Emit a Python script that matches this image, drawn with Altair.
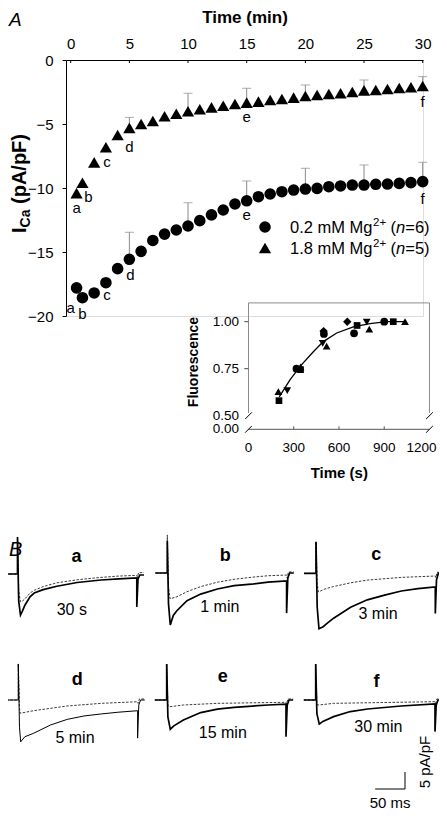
import altair as alt
import pandas as pd

FONT = "Liberation Sans"

# ---------------- Panel A : main time course ----------------
TIME_MIN = [0.5, 1, 2, 3, 4, 5, 6, 7, 8, 9, 10, 11, 12, 13, 14, 15, 16, 17, 18, 19, 20,
            21, 22, 23, 24, 25, 26, 27, 28, 29, 30]
I_LOW_MG = [-17.8, -18.57, -18.2, -17.4, -16.3, -15.57, -14.95, -14.1, -13.6, -13.28, -12.97,
            -12.55, -12.1, -11.72, -11.25, -11.0, -10.68, -10.47, -10.29, -10.16, -10.08,
            -10.03, -9.9, -9.84, -9.77, -9.77, -9.71, -9.69, -9.64, -9.58, -9.5]
I_HIGH_MG = [-10.4, -9.59, -8.0, -6.82, -5.86, -5.3, -5.0, -4.77, -4.4, -4.2, -4.0,
             -3.85, -3.7, -3.57, -3.44, -3.33, -3.25, -3.12, -3.05, -2.94, -2.81,
             -2.73, -2.66, -2.6, -2.5, -2.37, -2.34, -2.27, -2.19, -2.13, -2.03]
ERR_TIME = [5, 10, 15, 20, 25, 30]
ERR_TOP_LOW = [-13.46, -11.15, -9.45, -8.46, -8.2, -7.99]
ERR_TOP_HIGH = [-4.48, -2.6, -2.21, -1.95, -1.56, -1.3]
X_TICKS = [0, 5, 10, 15, 20, 25, 30]
Y_TICKS = [0, -5, -10, -15, -20]
POINT_LETTERS = ["a", "b", "c", "d", "e", "f"]
LETTER_TIMES = [0.5, 1, 3, 5, 15, 30]

# ---------------- Inset : fluorescence ----------------
SQ_T = [202, 345, 720, 960]
SQ_F = [0.58, 0.745, 0.98, 1.0]
TU_T = [198, 345, 518, 801, 1038]
TU_F = [0.628, 0.76, 0.87, 0.961, 1.0]
TD_T = [257, 492, 784]
TD_F = [0.633, 0.885, 0.998]
CI_T = [318, 500, 700, 900]
CI_F = [0.75, 0.935, 0.938, 1.0]
DI_T = [498, 655]
DI_F = [0.95, 1.0]
FIT_T = [204, 275, 345, 430, 496, 585, 695, 806, 916, 1038]
FIT_F = [0.60, 0.69, 0.765, 0.84, 0.894, 0.94, 0.973, 0.99, 1.0, 1.0]
INSET_Y_TICKS = [1.0, 0.75]
INSET_Y_LABELS = [1.0, 0.75, 0.5]
INSET_X_TICKS = [300, 600, 900]
INSET_X_LABELS = [0, 300, 600, 900, 1200]

# ---------------- Panel B : current traces (t in ms, I in pA/pF) ----------------
A_SOL_T = [-20, 0, 0, 2, 5, 8, 12.6, 21, 28, 43, 66, 100, 140, 170, 200, 200, 202, 205, 212]
A_SOL_V = [0, 0, 10.9, -8, -12.1, -11, -9.1, -6.7, -5.6, -4.6, -3.6, -2.5, -1.76, -1.45, -1.18, -9.7, -1.5, -0.3, -0.3]
A_DSH_T = [-20, 0, 0, 2, 5, 8, 12.6, 21, 28, 43, 66, 100, 140, 170, 200, 201, 203, 212]
A_DSH_V = [0, 0, 10.9, -5, -8.2, -8, -7.3, -5.6, -4.8, -3.7, -2.6, -1.7, -1.0, -0.6, -0.4, -0.9, 0.4, 0.4]

B_SOL_T = [-20, 0, 0, 2, 5, 10, 16, 33, 56, 84, 112, 141, 169, 200, 200, 202, 205, 212]
B_SOL_V = [0, 0, 9.5, -9, -15.3, -12.5, -11.1, -8.15, -6.2, -4.7, -3.7, -3.3, -2.7, -2.35, -11.8, -1.5, 0, 0]
B_DSH_T = [-20, 0, 0, 2, 4.6, 16, 33, 56, 84, 112, 141, 169, 200, 201, 203, 212]
B_DSH_V = [0, 0, 11.2, -4, -7.6, -7.0, -5.5, -4.0, -2.7, -1.85, -1.26, -0.8, -0.6, -1.5, 0.3, 0.3]

C_SOL_T = [-20, 0, 0, 2, 5, 12, 18, 29.5, 58, 86, 115, 143, 171, 200, 200, 202, 205, 212]
C_SOL_V = [0, 0, 9.3, -10, -16.3, -15.7, -14.8, -13.2, -10.0, -7.8, -6.4, -5.2, -4.5, -4.0, -11.8, -2, 0, 0]
C_DSH_T = [-20, 0, 0, 2, 4, 15, 29.5, 58, 86, 143, 200, 201, 203, 212]
C_DSH_V = [0, 0, 9.3, -3, -5.5, -4.6, -3.9, -2.8, -2.0, -1.2, -0.8, -1.3, 0.3, 0.3]

D_SOL_T = [-20, 0, 0, 2, 4, 11, 25.5, 54, 82, 110, 139, 167, 200, 200, 202, 205, 212]
D_SOL_V = [0, 0, 10.6, -8, -12.3, -10.8, -9.8, -7.35, -5.7, -4.7, -4.1, -3.6, -3.15, -11.2, -1.5, 0, 0]
D_DSH_T = [-20, 0, 0, 2, 3, 25.5, 82, 139, 200, 201, 203, 212]
D_DSH_V = [0, 0, 10.6, -2.5, -3.9, -3.15, -1.76, -0.98, -0.5, -1, 0.3, 0.3]

E_SOL_T = [-20, 0, 0, 2, 6, 12, 28, 57, 85, 113, 170, 200, 200, 202, 205, 212]
E_SOL_V = [0, 0, 10.6, -5, -8.6, -7.6, -5.9, -3.7, -2.7, -2.15, -1.47, -1.2, -10.8, -1.5, 0, 0]
E_DSH_T = [-20, 0, 0, 2, 4, 28, 85, 200, 201, 203, 212]
E_DSH_V = [0, 0, 10.6, -1.5, -2.0, -1.47, -0.98, -0.68, -1.2, 0.3, 0.3]

F_SOL_T = [-20, 0, 0, 2, 6, 12, 30, 58, 87, 143, 200, 200, 202, 205, 212]
F_SOL_V = [0, 0, 10.6, -4, -7.1, -6.3, -4.9, -3.4, -2.65, -1.76, -1.18, -9.3, -1.5, 0, 0]
F_DSH_T = [-20, 0, 0, 2, 4, 30, 200, 201, 203, 212]
F_DSH_V = [0, 0, 10.6, -1, -1.5, -0.98, -0.5, -1, 0.3, 0.3]

PANEL_LETTERS = ["a", "b", "c", "d", "e", "f"]
PANEL_TIMES = ["30 s", "1 min", "3 min", "5 min", "15 min", "30 min"]
SCALE_MS = 50
SCALE_PA = 5

# ================= layout (pixels in page coordinates) =================
X0, Y0, W, H = 66, 60, 357, 256
SVG_W, SVG_H = 431, 810


def vx(px):
    return px - X0


def vy(py):
    return py - Y0


def xdom(v_ref, px_ref, k):
    return [v_ref + (X0 - px_ref) / k, v_ref + (X0 + W - px_ref) / k]


def ydom(v_ref, py_ref, k):
    return [v_ref - (Y0 + H - py_ref) / k, v_ref - (Y0 - py_ref) / k]


def qx(field, dom, axis=None):
    return alt.X(f"{field}:Q", scale=alt.Scale(domain=dom, nice=False, zero=False), axis=axis)


def qy(field, dom, axis=None):
    return alt.Y(f"{field}:Q", scale=alt.Scale(domain=dom, nice=False, zero=False), axis=axis)


def one():
    return alt.Chart(pd.DataFrame({"k": [0]}))


def txt(text, px, py, size=15, weight="normal", style="normal", align="left", baseline="alphabetic", angle=0):
    return one().mark_text(text=text, font=FONT, fontSize=size, fontWeight=weight, fontStyle=style,
                           align=align, baseline=baseline, angle=angle, color="black").encode(
        x=alt.value(vx(px)), y=alt.value(vy(py)))


# ---------------- main group ----------------
XD = xdom(0, 70.7, 11.733)
YD = ydom(0, 60, 12.8)
AXX = alt.Axis(orient="top", values=X_TICKS, title="Time (min)", ticks=False, tickSize=0,
               labelPadding=9, labelFont=FONT, labelFontSize=15, labelColor="black",
               domainColor="black", domainWidth=1, grid=False, labelFlush=False,
               titleFont=FONT, titleFontSize=17, titleFontWeight="bold", titleColor="black",
               titleX=W / 2, titleY=-38, titleAlign="center", titleBaseline="alphabetic", titleAngle=0)
AXY = alt.Axis(values=Y_TICKS, title=None, tickSize=4, tickColor="black", labelPadding=9,
               labelFont=FONT, labelFontSize=15, labelColor="black", domainColor="black",
               grid=False, labelFlush=False)

df_low = pd.DataFrame({"t": TIME_MIN, "v": I_LOW_MG})
df_high = pd.DataFrame({"t": TIME_MIN, "v": I_HIGH_MG})
df_err_low = pd.DataFrame({"t": ERR_TIME, "v": [I_LOW_MG[TIME_MIN.index(t)] for t in ERR_TIME], "top": ERR_TOP_LOW})
df_err_high = pd.DataFrame({"t": ERR_TIME, "v": [I_HIGH_MG[TIME_MIN.index(t)] for t in ERR_TIME], "top": ERR_TOP_HIGH})
df_ticks = pd.DataFrame({"t": X_TICKS})

ERR_COLOR = "#8a8a8a"
main_layers = [
    alt.Chart(df_ticks).mark_rule(color="black", strokeWidth=1).encode(
        x=qx("t", XD, AXX), y=alt.value(0), y2=alt.value(3)),
]
for dfe in (df_err_low, df_err_high):
    main_layers.append(alt.Chart(dfe).mark_rule(color=ERR_COLOR, strokeWidth=1).encode(
        x=qx("t", XD, AXX), y=qy("v", YD, AXY), y2="top:Q"))
    main_layers.append(alt.Chart(dfe).mark_tick(orient="horizontal", size=9, thickness=1, color=ERR_COLOR).encode(
        x=qx("t", XD, AXX), y=qy("top", YD, AXY)))
main_layers.append(alt.Chart(df_low).mark_point(shape="circle", filled=True, size=135, color="black", opacity=1).encode(
    x=qx("t", XD, AXX), y=qy("v", YD, AXY)))
main_layers.append(alt.Chart(df_high).mark_point(shape="triangle-up", filled=True, size=150, color="black", opacity=1).encode(
    x=qx("t", XD, AXX), y=qy("v", YD, AXY)))

# letter labels next to points (offsets are styling)
LABEL_OFFSETS_HIGH = [(0, 15), (6, 14), (1, 15), (0, 19), (0, 14), (0, 16)]
LABEL_OFFSETS_LOW = [(-6, 20), (0, 16), (1, 12), (1, 16), (0, 14), (0, 17)]
for series, offsets in ((I_HIGH_MG, LABEL_OFFSETS_HIGH), (I_LOW_MG, LABEL_OFFSETS_LOW)):
    for lab, tt, (dx, dy) in zip(POINT_LETTERS, LETTER_TIMES, offsets):
        d = pd.DataFrame({"t": [tt], "v": [series[TIME_MIN.index(tt)]], "lab": [lab]})
        main_layers.append(alt.Chart(d).mark_text(font=FONT, fontSize=15, dx=dx, dy=dy, baseline="middle",
                                                  align="center", color="black").encode(
            x=qx("t", XD, AXX), y=qy("v", YD, AXY), text="lab:N"))

# y axis title: I_Ca (pA/pF), rotated
main_layers += [
    txt("I", 26, 233, size=20, weight="bold", angle=270),
    txt("Ca", 30, 227.4, size=14, weight="bold", angle=270),
    txt("(pA/pF)", 26, 204, size=20, weight="bold", angle=270),
    txt("A", 9, 26, size=19, style="italic"),
    txt("B", 9, 556, size=20, style="italic"),
]

# legend
main_layers += [
    one().mark_point(shape="circle", filled=True, size=135, color="black", opacity=1).encode(
        x=alt.value(vx(265)), y=alt.value(vy(227))),
    one().mark_point(shape="triangle-up", filled=True, size=150, color="black", opacity=1).encode(
        x=alt.value(vx(265)), y=alt.value(vy(248))),
]
for i, (conc, n) in enumerate((("0.2", "6"), ("1.8", "5"))):
    by = 233 + 21 * i
    x = 290
    main_layers += [
        txt(f"{conc} mM Mg", x, by, size=16.5),
        txt("2+", x + 83, by - 7, size=11.5),
        txt("(", x + 100.6, by, size=16.5),
        txt("n", x + 106.1, by, size=16.5, style="italic"),
        txt(f"={n})", x + 115.3, by, size=16.5),
    ]

main = alt.layer(*main_layers)

# ---------------- inset ----------------
XI = xdom(0, 248.5, 0.1508)
YI = ydom(1.0, 321.7, 188)
YL = ydom(0.0, 429.3, 188)
FRAME = "#8c8c8c"
F_TOP, F_BREAK, S_MAX = 1.1, 0.515, 1200

inset_layers = [
    alt.Chart(pd.DataFrame({"s": [0, S_MAX], "f": [F_BREAK, F_BREAK], "f2": [F_TOP, F_TOP]})).mark_rule(
        color=FRAME, strokeWidth=1).encode(x=qx("s", XI), y=qy("f", YI), y2="f2:Q"),
    alt.Chart(pd.DataFrame({"s": [0], "s2": [S_MAX], "f": [F_TOP]})).mark_rule(
        color=FRAME, strokeWidth=1).encode(x=qx("s", XI), x2="s2:Q", y=qy("f", YI)),
    alt.Chart(pd.DataFrame({"f": INSET_Y_TICKS})).mark_rule(color="#444", strokeWidth=1).encode(
        y=qy("f", YI), x=alt.value(vx(244.3)), x2=alt.value(vx(248.3))),
    alt.Chart(pd.DataFrame({"f": INSET_Y_LABELS, "lab": [f"{v:.2f}" for v in INSET_Y_LABELS]})).mark_text(
        font=FONT, fontSize=13.5, align="right", baseline="middle", color="black").encode(
        y=qy("f", YI), x=alt.value(vx(239)), text="lab:N"),
    alt.Chart(pd.DataFrame({"s": [0, S_MAX], "f": [0.5, 0.5]})).mark_point(
        shape="M -1 1 L 1 -1", filled=False, size=45, color="black", strokeWidth=1, opacity=1).encode(
        x=qx("s", XI), y=qy("f", YI)),
    alt.Chart(pd.DataFrame({"s": FIT_T, "f": FIT_F})).mark_line(color="black", strokeWidth=1.3).encode(
        x=qx("s", XI), y=qy("f", YI)),
]
for shp, tt, ff, sz in (("square", SQ_T, SQ_F, 45), ("triangle-up", TU_T, TU_F, 60),
                        ("triangle-down", TD_T, TD_F, 60), ("circle", CI_T, CI_F, 60),
                        ("diamond", DI_T, DI_F, 70)):
    inset_layers.append(alt.Chart(pd.DataFrame({"s": tt, "f": ff})).mark_point(
        shape=shp, filled=True, size=sz, color="black", opacity=1).encode(x=qx("s", XI), y=qy("f", YI)))
inset_layers += [
    txt("Fluorescence", 198, 362, size=14, weight="bold", align="center", angle=270),
    txt("Time (s)", 339.3, 478, size=15, weight="bold", align="center"),
]
inset_up = alt.layer(*inset_layers)

XLAB_DX = [0, 0, 0, 0, -8]   # keep the last label inside the page
low_layers = [
    alt.Chart(pd.DataFrame({"s": [0], "s2": [S_MAX], "f": [0.0]})).mark_rule(color="#555", strokeWidth=1).encode(
        x=qx("s", XI), x2="s2:Q", y=qy("f", YL)),
    alt.Chart(pd.DataFrame({"s": INSET_X_TICKS, "f": [0.0] * len(INSET_X_TICKS)})).mark_rule(
        color="#555", strokeWidth=1).encode(x=qx("s", XI), y=qy("f", YL), y2=alt.value(vy(426.3))),
    alt.Chart(pd.DataFrame({"f": [0.0], "lab": ["0.00"]})).mark_text(
        font=FONT, fontSize=13.5, align="right", baseline="middle", color="black").encode(
        y=qy("f", YL), x=alt.value(vx(239)), text="lab:N"),
    alt.Chart(pd.DataFrame({"s": [0, S_MAX], "f": [0.0, 0.0]})).mark_point(
        shape="M -1 1 L 1 -1", filled=False, size=45, color="black", strokeWidth=1, opacity=1).encode(
        x=qx("s", XI), y=qy("f", YL)),
]
for sv, ddx in zip(INSET_X_LABELS, XLAB_DX):
    low_layers.append(alt.Chart(pd.DataFrame({"s": [sv], "lab": [str(sv)]})).mark_text(
        font=FONT, fontSize=13.5, align="center", baseline="middle", dx=ddx, color="black").encode(
        x=qx("s", XI), y=alt.value(vy(447.5)), text="lab:N"))
inset_low = alt.layer(*low_layers)

# ---------------- panel B traces ----------------
KT, KV = 0.5965, 3.4   # px per ms, px per pA/pF
PANEL_ORIGINS = [(17.5, 574), (167.3, 573), (316, 573.3), (18.3, 700), (166.7, 700), (315.7, 700)]
TRACES = [(A_SOL_T, A_SOL_V, A_DSH_T, A_DSH_V), (B_SOL_T, B_SOL_V, B_DSH_T, B_DSH_V),
          (C_SOL_T, C_SOL_V, C_DSH_T, C_DSH_V), (D_SOL_T, D_SOL_V, D_DSH_T, D_DSH_V),
          (E_SOL_T, E_SOL_V, E_DSH_T, E_DSH_V), (F_SOL_T, F_SOL_V, F_DSH_T, F_DSH_V)]
SOLID_W = [1.7, 1.7, 1.7, 1.0, 1.7, 1.7]
LETTER_POS = [(99, 5.1), (97, 5.1), (101, 5.4), (99, 5.9), (94, 6.9), (102, 5.4)]
TIME_POS = [(91, -10.6), (88, -9.9), (104, -12.0), (95, -11.3), (94, -9.6), (105, -7.9)]

panels = []
for (px0, py0), (st, sv, dt, dv), sw, lp, tp, let, tl in zip(PANEL_ORIGINS, TRACES, SOLID_W,
                                                          LETTER_POS, TIME_POS, PANEL_LETTERS, PANEL_TIMES):
    XP = xdom(0, px0, KT)
    YP = ydom(0, py0, KV)
    sol = pd.DataFrame({"t": st, "v": sv, "i": range(len(st))})
    dsh = pd.DataFrame({"t": dt, "v": dv, "i": range(len(dt))})
    labs = pd.DataFrame({"t": [lp[0]], "v": [lp[1]], "lab": [let]})
    tlab = pd.DataFrame({"t": [tp[0]], "v": [tp[1]], "lab": [tl]})
    panels.append(alt.layer(
        alt.Chart(dsh).mark_line(color="#3a3a3a", strokeWidth=1, strokeDash=[2.5, 1.5]).encode(
            x=qx("t", XP), y=qy("v", YP), order="i:Q"),
        alt.Chart(sol).mark_line(color="black", strokeWidth=sw).encode(
            x=qx("t", XP), y=qy("v", YP), order="i:Q"),
        alt.Chart(labs).mark_text(font=FONT, fontSize=18, fontWeight="bold", align="center",
                                  baseline="middle", color="black").encode(
            x=qx("t", XP), y=qy("v", YP), text="lab:N"),
        alt.Chart(tlab).mark_text(font=FONT, fontSize=16, align="center", baseline="middle",
                                  color="black").encode(
            x=qx("t", XP), y=qy("v", YP), text="lab:N"),
    ))

# scale bar (moved up a little so it stays inside the page)
XS = xdom(0, 405, KT)
YS = ydom(0, 789, KV)
scalebar = alt.layer(
    alt.Chart(pd.DataFrame({"t": [-SCALE_MS], "t2": [0], "v": [0]})).mark_rule(color="black", strokeWidth=1).encode(
        x=qx("t", XS), x2="t2:Q", y=qy("v", YS)),
    alt.Chart(pd.DataFrame({"t": [0], "v": [0], "v2": [SCALE_PA]})).mark_rule(color="black", strokeWidth=1).encode(
        x=qx("t", XS), y=qy("v", YS), y2="v2:Q"),
    alt.Chart(pd.DataFrame({"t": [-SCALE_MS / 2], "v": [0], "lab": [f"{SCALE_MS} ms"]})).mark_text(
        font=FONT, fontSize=15, align="center", baseline="middle", dy=14, color="black").encode(
        x=qx("t", XS), y=qy("v", YS), text="lab:N"),
    alt.Chart(pd.DataFrame({"t": [0], "v": [SCALE_PA], "lab": [f"{SCALE_PA} pA/pF"]})).mark_text(
        font=FONT, fontSize=15, align="center", baseline="middle", angle=270, dx=10, dy=20,
        color="black").encode(
        x=qx("t", XS), y=qy("v", YS), text="lab:N"),
)

chart = alt.layer(main, inset_up, inset_low, *panels, scalebar).resolve_scale(
    x="independent", y="independent"
).properties(
    width=W, height=H,
    autosize=alt.AutoSizeParams(type="none"),
    padding={"left": X0 - 8, "top": Y0 - 8, "right": SVG_W - (X0 - 8) - W, "bottom": SVG_H - (Y0 - 8) - H},
).configure_view(stroke=None).configure(background="white", font=FONT)

chart.save("out.html", embed_options={"renderer": "svg", "actions": False})
